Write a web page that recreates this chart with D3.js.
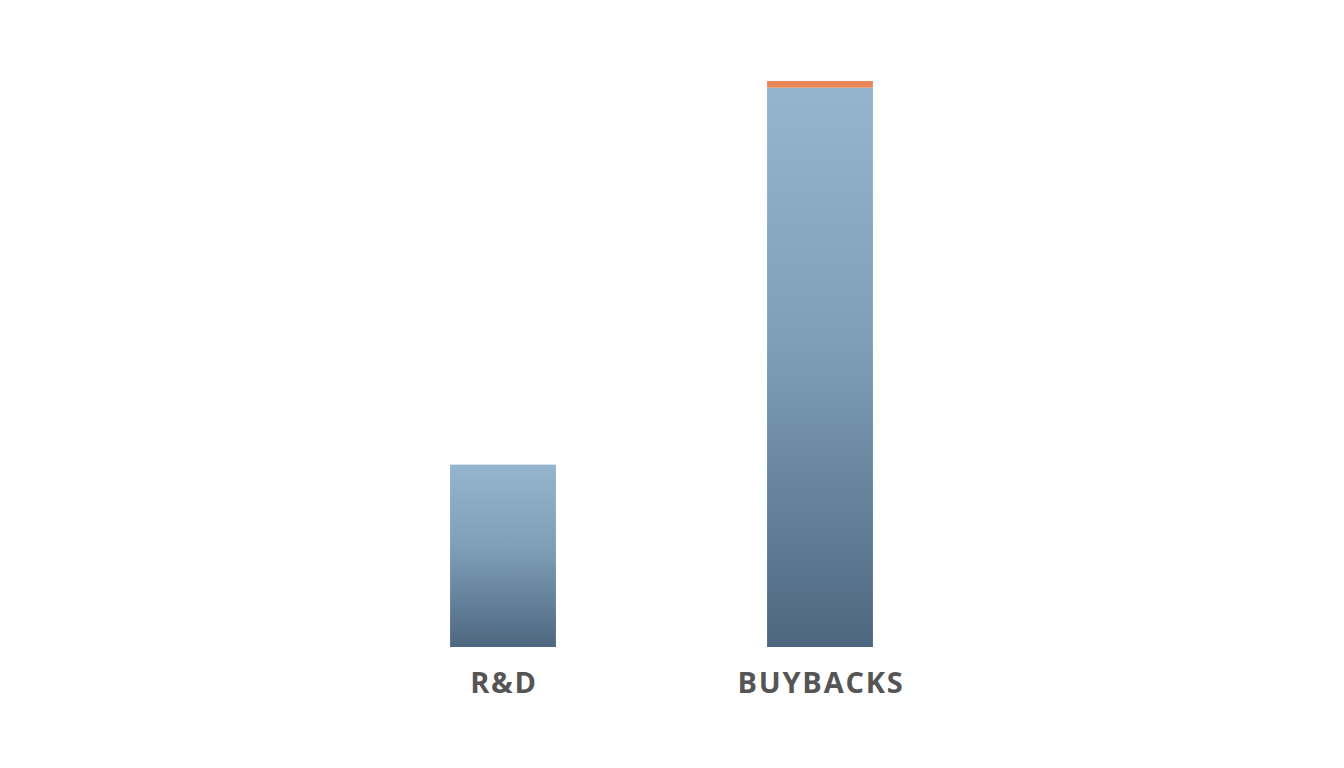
<!DOCTYPE html>
<html><head><meta charset="utf-8">
<script src="https://cdn.jsdelivr.net/npm/d3@7"></script>
<style>html,body{margin:0;padding:0;background:#fff;}svg{display:block;}</style>
</head><body>
<script>
const categories = ["R&D", "BUYBACKS"];
const baseValues = [30, 92];
const topValues = [0, 1.1];

const W = 1344, H = 768;
const svg = d3.select("body").append("svg").attr("width", W).attr("height", H);
const defs = svg.append("defs");
const grad = defs.append("linearGradient").attr("id", "barGrad")
  .attr("x1", 0).attr("y1", 0).attr("x2", 0).attr("y2", 1);
grad.append("stop").attr("offset", "0%").attr("stop-color", "#94b5cd");
grad.append("stop").attr("offset", "45%").attr("stop-color", "#7f9fb8");
grad.append("stop").attr("offset", "100%").attr("stop-color", "#4e6781");

const x = d3.scaleBand().domain(categories).range([344.5, 978.5])
  .paddingInner(0.666).paddingOuter(0.333);
const totals = baseValues.map((v, i) => v + topValues[i]);
const y = d3.scaleLinear().domain([0, d3.max(totals)]).range([647, 81]);

const data = categories.map((c, i) => ({c, base: baseValues[i], top: topValues[i]}));

svg.selectAll("rect.base").data(data).join("rect").attr("class", "base")
  .attr("x", d => x(d.c)).attr("width", x.bandwidth())
  .attr("y", d => y(d.base)).attr("height", d => y(0) - y(d.base))
  .attr("fill", "url(#barGrad)");

svg.selectAll("rect.top").data(data.filter(d => d.top > 0)).join("rect").attr("class", "top")
  .attr("x", d => x(d.c)).attr("width", x.bandwidth())
  .attr("y", d => y(d.base + d.top)).attr("height", d => y(d.base) - y(d.base + d.top))
  .attr("fill", "#e8885a");

const axis = d3.axisBottom(x).tickSize(0).tickPadding(0);
const g = svg.append("g").attr("transform", "translate(0,693)").call(axis);
g.select(".domain").remove();
g.selectAll("text").attr("dy", 0).attr("y", 0).attr("dx", 1)
  .attr("font-family", "'Open Sans', sans-serif").attr("font-weight", 700)
  .attr("font-size", 29).attr("letter-spacing", 1.8).attr("fill", "#555555");
</script>
</body></html>
